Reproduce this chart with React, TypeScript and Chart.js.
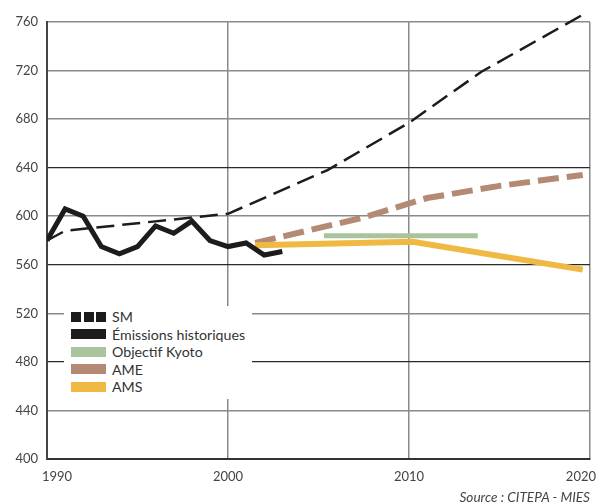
import { useEffect, useRef } from "react";
import { Chart, registerables } from "chart.js";

Chart.register(...registerables);

// ---- data ----
const histYears = [1990, 1991, 1992, 1993, 1994, 1995, 1996, 1997, 1998, 1999, 2000, 2001, 2002, 2003];
const histValues = [580, 606, 600, 575, 569, 575, 592, 586, 596, 580, 575, 578, 568, 571];

const smYears = [1990, 1991, 2000, 2005.5, 2010, 2014, 2019.6];
const smValues = [580, 588, 602, 638, 677, 719, 766];

const ameYears = [2001.5, 2007.5, 2011, 2015, 2019.6];
const ameValues = [578, 599, 615, 625, 634];

const amsYears = [2001.5, 2010.2, 2019.6];
const amsValues = [576, 579, 556];

const kyotoYears = [2005.3, 2013.8];
const kyotoValues = [584, 584];

const xTicks = [1990, 2000, 2010, 2020];
const xTickLabels = ["1990", "2000", "2010", "2020"];
const yTicks = [400, 440, 480, 520, 560, 600, 640, 680, 720, 760];

const legendNames = ["SM", "Émissions historiques", "Objectif Kyoto", "AME", "AMS"];
const sourceText = "Source : CITEPA - MIES";

const COLORS = {
  hist: "#1c1c1c",
  sm: "#1c1c1c",
  kyoto: "#a9c49c",
  ame: "#b48a75",
  ams: "#f0b944",
};

const toPts = (xs: number[], ys: number[]) => xs.map((x, i) => ({ x, y: ys[i] }));

const FONT = "Lato, 'Open Sans', sans-serif";

// x tick labels, kept inside the canvas
const xLabelPlugin = {
  id: "xLabelsInside",
  afterDraw(chart: any) {
    const { ctx } = chart;
    const xs = chart.scales.x;
    ctx.save();
    ctx.font = `13px ${FONT}`;
    ctx.fillStyle = "#444";
    ctx.textAlign = "center";
    ctx.textBaseline = "middle";
    xTicks.forEach((v, i) => {
      const label = xTickLabels[i];
      const w = ctx.measureText(label).width;
      let cx = xs.getPixelForValue(v);
      cx = Math.min(Math.max(cx, 42 + w / 2), chart.width - w / 2 - 1);
      ctx.fillText(label, cx, xs.bottom - 45 + 18);
    });
    ctx.restore();
  },
};

export default function App() {
  const ref = useRef<HTMLCanvasElement>(null);

  useEffect(() => {
    document.body.style.margin = "0";
    const darkY = [400, 480, 560, 640];
    const chart = new Chart(ref.current as HTMLCanvasElement, {
      type: "line",
      data: {
        datasets: [
          {
            label: legendNames[1],
            data: toPts(histYears, histValues),
            borderColor: COLORS.hist,
            borderWidth: 5,
            borderJoinStyle: "miter",
          },
          {
            label: legendNames[4],
            data: toPts(amsYears, amsValues),
            borderColor: COLORS.ams,
            borderWidth: 6,
          },
          {
            label: legendNames[2],
            data: toPts(kyotoYears, kyotoValues),
            borderColor: COLORS.kyoto,
            borderWidth: 5,
            borderCapStyle: "butt",
          },
          {
            label: legendNames[3],
            data: toPts(ameYears, ameValues),
            borderColor: COLORS.ame,
            borderWidth: 6,
            borderDash: [21, 8],
          },
          {
            label: legendNames[0],
            data: toPts(smYears, smValues),
            borderColor: COLORS.sm,
            borderWidth: 2.5,
            borderDash: [18, 8],
            clip: false,
          },
        ] as any,
      },
      options: {
        animation: false,
        responsive: false,
        layout: { padding: { top: 22, right: 7, left: 0, bottom: 0 } },
        plugins: { legend: { display: false }, tooltip: { enabled: false } },
        elements: { point: { radius: 0 }, line: { tension: 0, fill: false } },
        scales: {
          x: {
            type: "linear",
            min: 1990,
            max: 2020,
            afterBuildTicks: (s: any) => {
              s.ticks = xTicks.map((v) => ({ value: v }));
            },
            afterFit: (s: any) => {
              s.height = 45;
              s.paddingLeft = 0;
              s.paddingRight = 0;
            },
            ticks: {
              display: false,
              callback: (v: any) => String(v),
              autoSkip: false,
            },
            grid: {
              drawTicks: false,
              color: (ctx: any) => (ctx.tick && ctx.tick.value === 1990 ? "#333" : "#8a8a8a"),
              lineWidth: 1.5,
            },
            border: { color: "#333", width: 2 },
          },
          y: {
            type: "linear",
            min: 400,
            max: 760,
            afterBuildTicks: (s: any) => {
              s.ticks = yTicks.map((v) => ({ value: v }));
            },
            afterFit: (s: any) => {
              s.width = 47;
              s.paddingTop = 0;
              s.paddingBottom = 0;
            },
            ticks: {
              callback: (v: any) => String(v),
              padding: 9,
              font: { family: FONT, size: 13 },
              color: "#444",
              autoSkip: false,
            },
            grid: {
              drawTicks: false,
              color: (ctx: any) => (ctx.tick && darkY.includes(ctx.tick.value) ? "#2a2a2a" : "#8a8a8a"),
              lineWidth: (ctx: any) => (ctx.tick && darkY.includes(ctx.tick.value) ? 1.2 : 1.5),
            },
            border: { color: "#444", width: 2 },
          },
        },
      } as any,
      plugins: [xLabelPlugin],
    });
    return () => chart.destroy();
  }, []);

  const swatch = (i: number) => {
    if (i === 0) {
      return (
        <div style={{ display: "flex", width: 35, height: 10, justifyContent: "space-between" }}>
          <div style={{ width: 10, height: 10, background: COLORS.sm }} />
          <div style={{ width: 10, height: 10, background: COLORS.sm }} />
          <div style={{ width: 10, height: 10, background: COLORS.sm }} />
        </div>
      );
    }
    const c = [COLORS.sm, COLORS.hist, COLORS.kyoto, COLORS.ame, COLORS.ams][i];
    return <div style={{ width: 35, height: 10, background: c }} />;
  };

  return (
    <div style={{ position: "relative", width: 597, height: 504, overflow: "hidden", background: "#fff" }}>
      <canvas ref={ref} width={597} height={504} style={{ display: "block" }} />
      <div
        style={{
          position: "absolute",
          left: 64,
          top: 306,
          width: 188,
          height: 93,
          background: "#fff",
        }}
      >
        {legendNames.map((name, i) => (
          <div
            key={name}
            style={{
              position: "absolute",
              left: 7,
              top: 2 + i * 17.5,
              height: 17.5,
              display: "flex",
              alignItems: "center",
              whiteSpace: "nowrap",
            }}
          >
            {swatch(i)}
            <span
              style={{
                marginLeft: 6,
                fontFamily: FONT,
                fontSize: 14.2,
                color: "#333",
                lineHeight: "17px",
              }}
            >
              {name}
            </span>
          </div>
        ))}
      </div>
      <div
        style={{
          position: "absolute",
          right: 7,
          top: 490,
          fontFamily: FONT,
          fontStyle: "italic",
          fontSize: 13.6,
          lineHeight: "15px",
          color: "#444",
          whiteSpace: "nowrap",
        }}
      >
        {sourceText}
      </div>
    </div>
  );
}
